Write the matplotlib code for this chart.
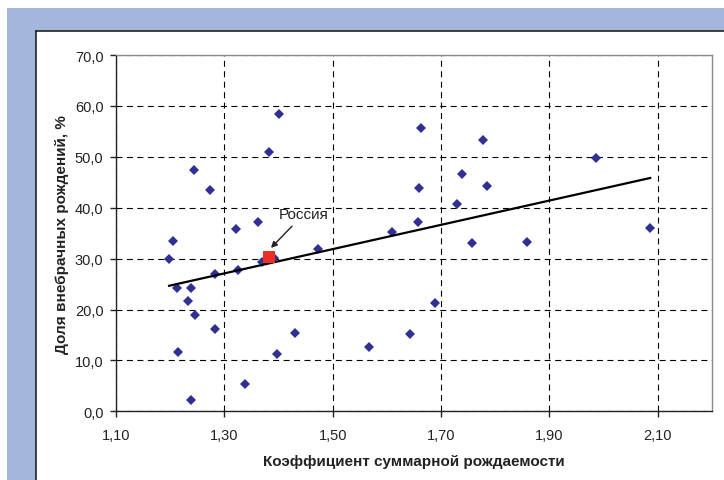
import numpy as np
import matplotlib
matplotlib.use("Agg")
import matplotlib.pyplot as plt
from matplotlib.patches import Rectangle
from matplotlib.lines import Line2D
from matplotlib.ticker import FuncFormatter

plt.rcParams['font.family'] = ['Liberation Sans', 'DejaVu Sans']

# --- data ---
tfr = [1.198, 1.206, 1.244, 1.273, 1.383, 1.400, 1.321, 1.362, 1.282, 1.325,
       1.369, 1.392, 1.473, 1.212, 1.238, 1.233, 1.246, 1.282, 1.214, 1.398,
       1.431, 1.338, 1.238, 1.662, 1.778, 1.986, 1.738, 1.785, 1.659, 1.729,
       1.657, 1.610, 1.757, 1.859, 2.086, 1.689, 1.642, 1.567]
share = [29.9, 33.5, 47.5, 43.5, 51.0, 58.4, 35.9, 37.2, 27.0, 27.8,
         29.3, 30.1, 31.8, 24.2, 24.2, 21.7, 18.9, 16.1, 11.7, 11.2,
         15.4, 5.4, 2.2, 55.7, 53.3, 49.8, 46.6, 44.2, 43.8, 40.7,
         37.2, 35.2, 33.1, 33.3, 36.1, 21.3, 15.2, 12.6]
russia_x = [1.383]
russia_y = [30.3]
russia_label = "Россия"
x_ticks = [1.10, 1.30, 1.50, 1.70, 1.90, 2.10]
y_ticks = [0, 10, 20, 30, 40, 50, 60, 70]
x_title = "Коэффициент суммарной рождаемости"
y_title = "Доля внебрачных рождений, %"

W, H = 724, 481
fig = plt.figure(figsize=(W / 100, H / 100), dpi=100)
fig.patch.set_facecolor('white')

def fx(px):
    return px / W

def fy(py):
    return 1 - py / H

# blue frame and white panel
fig.patches.append(Rectangle((fx(7), 0), 1 - fx(7), fy(9), transform=fig.transFigure,
                             facecolor='#a3b6dc', edgecolor='none', zorder=0))
fig.patches.append(Rectangle((fx(36), 0), 1 - fx(36), fy(32), transform=fig.transFigure,
                             facecolor='white', edgecolor='none', zorder=1))
fig.lines.append(Line2D([fx(36), fx(36)], [0, fy(32)], transform=fig.transFigure,
                        color='#222222', lw=1.2, zorder=2))
fig.lines.append(Line2D([fx(36), 1], [fy(32), fy(32)], transform=fig.transFigure,
                        color='#222222', lw=1.2, zorder=2))

ax = fig.add_axes([fx(116), fy(412.3), fx(712) - fx(116), fy(56) - fy(412.3)])
ax.set_facecolor('white')
ax.set_zorder(3)

ax.set_xlim(1.10, 2.20)
ax.set_ylim(0, 70)
ax.set_xticks(x_ticks)
ax.set_yticks(y_ticks)
ax.xaxis.set_major_formatter(FuncFormatter(lambda v, p: f"{v:.2f}".replace('.', ',')))
ax.yaxis.set_major_formatter(FuncFormatter(lambda v, p: f"{v:.1f}".replace('.', ',')))
ax.tick_params(axis='x', direction='out', length=4, width=1, pad=8, labelsize=10.5, colors='#222222')
ax.tick_params(axis='y', direction='out', length=4, width=1, pad=5, labelsize=10.5, colors='#222222')

ax.grid(True, color='black', lw=0.8, linestyle=(0, (5.4, 4)))
ax.set_axisbelow(True)

for s in ['left', 'bottom']:
    ax.spines[s].set_color('#222222')
    ax.spines[s].set_linewidth(1.0)
for s in ['top', 'right']:
    ax.spines[s].set_color('#8a8a8a')
    ax.spines[s].set_linewidth(1.0)

all_x = np.array(tfr + russia_x)
all_y = np.array(share + russia_y)

ax.plot(tfr, share, linestyle='none', marker='D', ms=4.8, color='#2e3192',
        markeredgewidth=0, zorder=4)

# linear trend
k, b = np.polyfit(all_x, all_y, 1)
xt = np.array([all_x.min(), all_x.max()])
ax.plot(xt, k * xt + b, color='black', lw=1.6, zorder=5)

ax.plot(russia_x, russia_y, linestyle='none', marker='s', ms=8, color='#ee2d24',
        markeredgewidth=0, zorder=6)

ax.annotate(russia_label, xy=(russia_x[0] + 0.003, russia_y[0] + 1.8),
            xytext=(russia_x[0] + 0.017, russia_y[0] + 8.4),
            fontsize=11, color='#222222', ha='left', va='center',
            arrowprops=dict(arrowstyle='-|>', color='#222222', lw=1.0,
                            mutation_scale=9, shrinkA=2, shrinkB=0),
            zorder=7)

fig.text(fx(414), fy(462.5), x_title, ha='center', va='center', fontsize=11,
         fontweight='bold', color='#222222', zorder=5)
fig.text(fx(62), fy(235), y_title, ha='center', va='center', rotation=90,
         fontsize=11, fontweight='bold', color='#222222', zorder=5)

fig.savefig('out.png', dpi=100)
